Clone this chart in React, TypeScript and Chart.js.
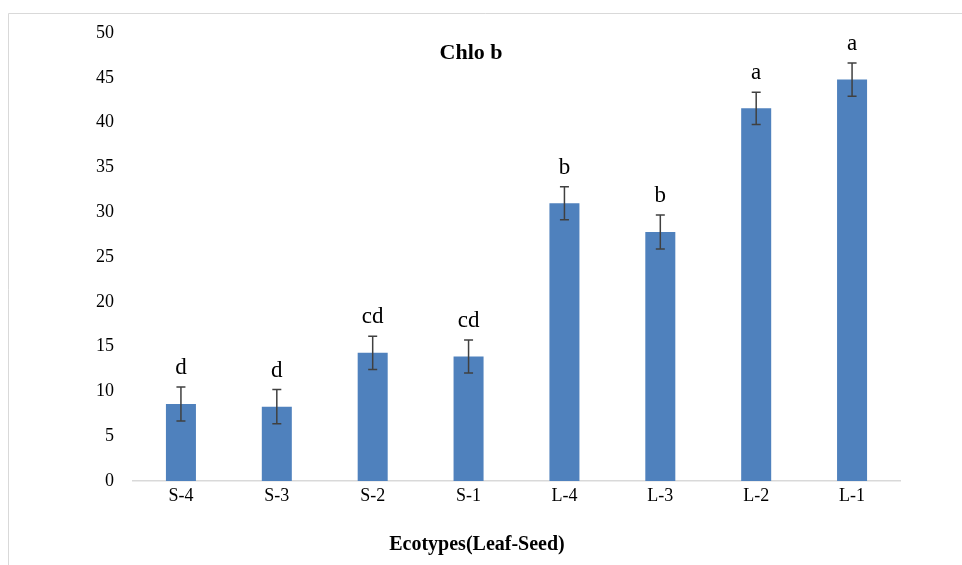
import React, { useEffect, useRef } from "react";
import { Chart, registerables } from "chart.js";

Chart.register(...registerables);

const categories = ["S-4", "S-3", "S-2", "S-1", "L-4", "L-3", "L-2", "L-1"];
const values = [8.6, 8.3, 14.3, 13.9, 31.0, 27.8, 41.6, 44.8];
const errors = [1.9, 1.9, 1.85, 1.85, 1.85, 1.9, 1.8, 1.85];
const letters = ["d", "d", "cd", "cd", "b", "b", "a", "a"];
const chartTitle = "Chlo b";
const xAxisTitle = "Ecotypes(Leaf-Seed)";
const yMin = 0;
const yMax = 50;
const yStep = 5;

const W = 962;
const H = 565;
const SERIF = "'Liberation Serif', 'Times New Roman', serif";

const overlayPlugin = {
  id: "overlay",
  beforeDraw(chart: any) {
    const ctx = chart.ctx;
    ctx.save();
    ctx.fillStyle = "#ffffff";
    ctx.fillRect(0, 0, chart.width, chart.height);
    ctx.strokeStyle = "#d9d9d9";
    ctx.lineWidth = 1;
    ctx.beginPath();
    ctx.moveTo(8.5, chart.height + 2);
    ctx.lineTo(8.5, 13.5);
    ctx.lineTo(chart.width + 2, 13.5);
    ctx.stroke();
    ctx.restore();
  },
  afterDatasetsDraw(chart: any) {
    const ctx = chart.ctx;
    const meta = chart.getDatasetMeta(0);
    const yScale = chart.scales.y;
    ctx.save();
    meta.data.forEach((bar: any, i: number) => {
      const x = bar.x;
      const v = values[i];
      const e = errors[i];
      const yTop = yScale.getPixelForValue(v + e);
      const yBot = yScale.getPixelForValue(v - e);
      ctx.strokeStyle = "#404040";
      ctx.lineWidth = 1.5;
      ctx.beginPath();
      ctx.moveTo(x, yTop);
      ctx.lineTo(x, yBot);
      ctx.moveTo(x - 4.5, yTop);
      ctx.lineTo(x + 4.5, yTop);
      ctx.moveTo(x - 4.5, yBot);
      ctx.lineTo(x + 4.5, yBot);
      ctx.stroke();
      ctx.fillStyle = "#000000";
      ctx.font = `23px ${SERIF}`;
      ctx.textAlign = "center";
      ctx.textBaseline = "middle";
      ctx.fillText(letters[i], x, yTop - 19);
    });
    ctx.fillStyle = "#000000";
    ctx.textAlign = "center";
    ctx.textBaseline = "middle";
    ctx.font = `bold 22px ${SERIF}`;
    ctx.fillText(chartTitle, 471, 53);
    ctx.font = `bold 20px ${SERIF}`;
    ctx.fillText(xAxisTitle, 477, 545);
    ctx.restore();
  },
};

export default function App() {
  const ref = useRef<HTMLCanvasElement>(null);
  useEffect(() => {
    if (!ref.current) return;
    const chart = new Chart(ref.current, {
      type: "bar",
      data: {
        labels: categories,
        datasets: [
          {
            data: values,
            backgroundColor: "#4f81bd",
            borderWidth: 0,
            categoryPercentage: 1,
            barPercentage: 0.313,
          },
        ],
      },
      options: {
        responsive: false,
        animation: false,
        devicePixelRatio: 1,
        layout: { padding: { top: 33, right: 62, left: 0, bottom: 0 } },
        plugins: {
          legend: { display: false },
          title: { display: false },
          tooltip: { enabled: false },
        },
        scales: {
          x: {
            grid: { display: false, drawTicks: false },
            border: { display: true, color: "#d9d9d9", width: 1.5 },
            ticks: {
              color: "#000000",
              font: { family: SERIF, size: 18 },
              padding: 4,
              maxRotation: 0,
            },
            afterFit(scale: any) {
              scale.height = H - 481;
            },
          },
          y: {
            min: yMin,
            max: yMax,
            grid: { display: false, drawTicks: false },
            border: { display: false },
            ticks: {
              stepSize: yStep,
              color: "#000000",
              font: { family: SERIF, size: 18 },
              padding: 19,
            },
            afterFit(scale: any) {
              scale.width = 133;
            },
          },
        },
      },
      plugins: [overlayPlugin],
    });
    return () => chart.destroy();
  }, []);
  return (
    <div style={{ position: "fixed", left: 0, top: 0, width: W, height: H, background: "#fff" }}>
      <canvas ref={ref} width={W} height={H} style={{ display: "block", width: W, height: H }} />
    </div>
  );
}
